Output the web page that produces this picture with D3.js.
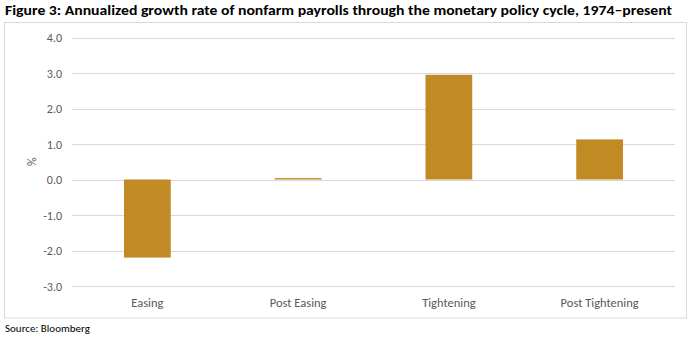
<!DOCTYPE html>
<html>
<head>
<meta charset="utf-8">
<script src="https://cdn.jsdelivr.net/npm/d3@7"></script>
<style>
  html, body { margin: 0; padding: 0; background: #ffffff; }
  svg { display: block; }
</style>
</head>
<body>
<script>
// Annualized nonfarm payroll growth by monetary policy phase, 1974–present
const categories = ["Easing", "Post Easing", "Tightening", "Post Tightening"];
const growth = [-2.2, 0.04, 2.95, 1.13];
const yTicks = [4, 3, 2, 1, 0, -1, -2, -3];

const W = 690, H = 345;
const svg = d3.select("body").append("svg").attr("width", W).attr("height", H);
const font = "Calibri, Carlito, Lato, 'Open Sans', sans-serif";
const fmt = d => d3.format(".1f")(d).replace("\u2212", "-");

svg.append("text")
  .attr("x", 5).attr("y", 15)
  .attr("font-family", font).attr("font-weight", "bold")
  .attr("font-size", 14.5).attr("fill", "#000")
  .attr("textLength", 667).attr("lengthAdjust", "spacingAndGlyphs")
  .text("Figure 3: Annualized growth rate of nonfarm payrolls through the monetary policy cycle, 1974–present");

// chart frame
svg.append("rect")
  .attr("x", 4.5).attr("y", 22.5).attr("width", 682).attr("height", 295.5)
  .attr("fill", "none").attr("stroke", "#d9d9d9").attr("stroke-width", 1);

const x = d3.scaleBand().domain(categories).range([72, 675]).paddingInner(0.69).paddingOuter(0.345);
const y = d3.scaleLinear().domain([-3, 4]).range([286, 37.5]);

// gridlines
svg.append("g").selectAll("line").data(yTicks).join("line")
  .attr("x1", 72).attr("x2", 675)
  .attr("y1", d => Math.round(y(d)) + 0.5).attr("y2", d => Math.round(y(d)) + 0.5)
  .attr("stroke", "#d9d9d9").attr("stroke-width", 1);

// y-axis labels
svg.append("g").selectAll("text").data(yTicks).join("text")
  .attr("x", 62).attr("y", d => y(d) + 4.5)
  .attr("text-anchor", "end")
  .attr("font-family", font).attr("font-size", 12).attr("fill", "#595959")
  .text(fmt);

svg.append("text")
  .attr("transform", `translate(36,${(y(4) + y(-3)) / 2}) rotate(-90)`)
  .attr("text-anchor", "middle")
  .attr("font-family", font).attr("font-size", 12).attr("fill", "#595959")
  .text("%");

// bars
svg.append("g").selectAll("rect").data(categories).join("rect")
  .attr("x", d => x(d))
  .attr("width", x.bandwidth())
  .attr("y", (d, i) => y(Math.max(0, growth[i])))
  .attr("height", (d, i) => Math.abs(y(growth[i]) - y(0)))
  .attr("fill", "#c08b24");

// category labels
svg.append("g").selectAll("text").data(categories).join("text")
  .attr("x", d => x(d) + x.bandwidth() / 2)
  .attr("y", 307)
  .attr("text-anchor", "middle")
  .attr("font-family", font).attr("font-size", 12.5).attr("fill", "#595959")
  .text(d => d);

svg.append("text")
  .attr("x", 5).attr("y", 332)
  .attr("font-family", font).attr("font-size", 11).attr("fill", "#000")
  .text("Source: Bloomberg");
</script>
</body>
</html>
